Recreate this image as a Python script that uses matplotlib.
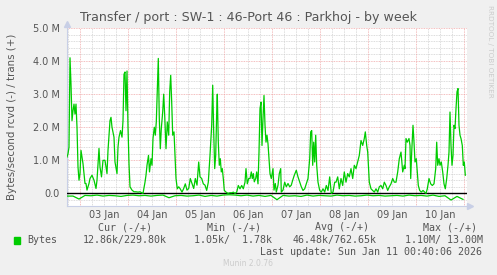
import numpy as np
import matplotlib
matplotlib.use("Agg")
import matplotlib.pyplot as plt

# ---------------- data ----------------
# hours relative to 03 Jan 00:00, trans (+) in MBytes/s
hours = [-6.5, -6, -5.5, -5, -4.5, -4, -3.5, -3, -2.5, -2, -1.5, -1, -0.5, 0, 0.5, 1, 1.5, 2, 2.5, 3,
         3.5, 4, 4.5, 5, 6, 7, 8, 8.5, 9.5, 10, 10.75, 11.5, 12.5, 13.5, 14, 15, 15.5, 16, 17, 17.5,
         18.5, 19, 19.5, 20.25, 21, 21.5, 22, 22.5, 23, 23.5, 24, 24.5, 25, 25.5, 26, 27, 28, 29, 30, 31.5,
         32.5, 33, 33.5, 34.25, 34.75, 35.5, 36, 36.5, 37.15, 37.65, 38.15, 38.65, 39.15, 39.65, 40.15, 40.65,
         41.35, 41.85, 42.35, 43, 43.65, 44.35, 44.85, 45.35, 45.85, 46.35, 47, 47.5, 48, 48.65, 49.35, 50,
         51, 51.85, 52.65, 53.5, 54.35, 55.15, 56, 56.85, 57.65, 58.5, 59.35, 60, 60.85, 61.65, 62.5, 63.35,
         64.15, 65, 65.85, 66.35, 66.85, 67.35, 67.85, 68.35, 68.65, 69.15, 69.65, 70.15, 70.65, 71.15, 71.65,
         72.15, 73, 74, 75, 76, 76.65, 77.5, 78.35, 79.15, 80, 80.85, 81.65, 82.5, 83, 83.65, 84.35, 85,
         85.65, 86.15, 86.65, 87.15, 87.85, 88.35, 89, 89.5, 90, 90.5, 91, 91.5, 92, 92.5, 93, 93.5, 94,
         94.5, 95, 95.65, 96.5, 97, 97.65, 98.15, 99, 99.65, 100.35, 100.65, 101.5, 102.35, 103.15, 104,
         104.85, 105.65, 106.35, 107.15, 108.15, 109, 109.85, 110.65, 111.5, 112.35, 113.15, 114, 114.85,
         115.35, 115.85, 116.35, 116.85, 117.35, 117.85, 118.35, 119, 119.85, 120.65, 121.5, 122.35, 123.15,
         124, 124.85, 125.65, 126.5, 127.35, 128, 128.85, 129.65, 130.5, 131.35, 132.15, 133, 133.85,
         134.65, 135.5, 136.35, 137.15, 138, 138.85, 139.65, 140.5, 141.35, 142.15, 142.65, 143.35, 143.85,
         144.65, 145.5, 146.35, 147.15, 148, 148.85, 149.65, 150.5, 151.35, 152.15, 153, 153.85, 154.65,
         155.5, 156.35, 157.15, 158, 158.85, 159.65, 160.5, 161.35, 162.15, 162.5, 163, 163.65, 164.5, 165,
         165.35, 165.85, 166.5, 167, 167.5, 168.15, 168.65, 169.15, 169.85, 170.65, 171.5, 172.35, 173,
         173.65, 174.5, 175.35, 176.15, 177, 177.85, 178.35, 178.85, 179.5, 180, 180.65, 181.35, 182,
         182.65, 183.35, 184, 184.5, 185, 185.5, 186, 186.5, 187, 187.5, 188, 188.5, 189, 189.5, 190,
         190.5, 191.15, 191.65, 192.15, 192.65]
trans = [1.1, 1.2, 1.4, 4.1, 3.3, 2.2, 2.5, 2.7, 2.4, 2.7, 2.0, 0.8, 0.4, 0.6, 1.3, 1.1, 0.9, 0.6, 0.3, 0.3,
         0.1, 0.2, 0.3, 0.45, 0.55, 0.4, 0.15, 0.4, 1.36, 0.8, 0.5, 1.0, 1.0, 0.6, 1.3, 2.2, 2.3, 2.0, 1.7, 0.95,
         0.6, 1.4, 1.7, 1.9, 1.7, 2.2, 3.6, 3.67, 2.5, 3.7, 2.0, 0.9, 0.2, 0.15, 0.1, 0.05, 0.05, 0.04, 0.05, 0.0,
         0.34, 0.55, 0.85, 1.15, 0.65, 1.05, 0.85, 1.66, 2.0, 1.76, 2.16, 3.07, 4.08, 2.26, 1.35, 1.96,
         2.46, 3.0, 2.36, 1.35, 2.16, 1.76, 3.07, 3.57, 2.76, 1.76, 1.86, 1.15, 0.45, 0.14, 0.2, 0.15,
         0.04, 0.15, 0.29, 0.1, 0.15, 0.45, 0.3, 0.15, 0.45, 0.25, 0.95, 0.5, 0.45, 0.29, 0.25, 0.09,
         0.34, 1.15, 2.06, 3.27, 1.86, 0.75, 1.15, 2.46, 3.0, 1.55, 0.85, 1.05, 0.65, 0.75, 0.45,
         0.09, 0.04, 0.0, 0.02, 0.02, 0.04, 0.0, 0.04, 0.24, 0.14, 0.24, 0.14, 0.34, 0.75, 0.29, 0.45, 0.45,
         0.65, 0.45, 0.6, 0.35, 0.45, 0.65, 0.29, 1.25, 2.56, 2.76, 1.45, 2.26, 2.96, 2.06, 1.55, 1.76, 1.5,
         1.05, 0.6, 0.45, 0.75, 0.1, 0.3, 0.04, 0.25, 0.6, 0.75, 0.04, 0.1, 0.34, 0.2, 0.3,
         0.2, 0.25, 0.4, 0.55, 0.7, 0.5, 0.34, 0.2, 0.09, 0.14, 0.29, 0.45, 1.05,
         1.86, 1.9, 0.85, 1.55, 0.95, 1.76, 0.85, 0.34, 0.09, 0.04, 0.14, 0.04, 0.24,
         0.09, 0.5, 0.0, 0.04, 0.34, 0.34, 0.5, 0.14, 0.45, 0.24, 0.65, 0.34, 0.6,
         0.5, 0.75, 0.45, 0.85, 0.75, 0.95, 1.15, 1.6, 1.45, 1.66, 1.86, 1.45, 1.25,
         0.34, 0.14, 0.09, 0.04, 0.14, 0.04, 0.2, 0.24, 0.14, 0.34, 0.24, 0.09, 0.2,
         0.29, 0.45, 0.34, 0.34, 0.65, 1.05, 1.25, 0.65, 0.85, 0.75, 1.66, 1.55, 1.66, 1.45,
         0.45, 1.25, 2.06, 1.55, 0.95, 1.05, 0.65, 0.24, 0.09, 0.04, 0.09, 0.04, 0.0,
         0.14, 0.45, 0.29, 0.24, 0.29, 0.75, 1.55, 0.85, 1.05, 0.85, 0.95, 0.65, 0.29,
         0.14, 0.45, 0.85, 1.25, 2.46, 1.45, 0.85, 1.15, 2.06, 1.96, 2.56, 3.07, 3.17, 2.06, 1.76,
         1.66, 1.45, 0.85, 0.95, 0.55]

# rcvd (-) in MBytes/s, one sample every 3 hours starting at -6.5 h
rcvd_start = -6.5
rcvd_step = 3
rcvd = [0.08, 0.08, 0.17, 0.06, 0.07, 0.05, 0.08, 0.06, 0.07, 0.09, 0.06, 0.05, 0.07, 0.06, 0.08,
        0.06, 0.05, 0.13, 0.07, 0.06, 0.08, 0.07, 0.05, 0.09, 0.06, 0.08, 0.05, 0.04, 0.05, 0.07,
        0.05, 0.08, 0.06, 0.09, 0.06, 0.19, 0.06, 0.08, 0.07, 0.09, 0.05, 0.08, 0.06, 0.07, 0.08,
        0.05, 0.07, 0.06, 0.08, 0.07, 0.05, 0.07, 0.06, 0.08, 0.07, 0.06, 0.08, 0.05, 0.07, 0.06,
        0.08, 0.05, 0.09, 0.07, 0.20, 0.09, 0.18]

day_labels = ["03 Jan", "04 Jan", "05 Jan", "06 Jan", "07 Jan", "08 Jan", "09 Jan", "10 Jan"]
ytick_vals = [0, 1, 2, 3, 4, 5]
ytick_labels = ["0.0", "1.0 M", "2.0 M", "3.0 M", "4.0 M", "5.0 M"]

title = "Transfer / port : SW-1 : 46-Port 46 : Parkhoj - by week"
ylabel = "Bytes/second rcvd (-) / trans (+)"
legend_name = "Bytes"
col_heads = ["Cur (-/+)", "Min (-/+)", "Avg (-/+)", "Max (-/+)"]
col_vals = ["12.86k/229.80k", "1.05k/  1.78k", "46.48k/762.65k", "1.10M/ 13.00M"]
last_update = "Last update: Sun Jan 11 00:40:06 2026"
footer = "Munin 2.0.76"
side_text = "RRDTOOL / TOBI OETIKER"

# ---------------- figure ----------------
W, H = 497, 275
fig = plt.figure(figsize=(W / 100, H / 100), dpi=100, facecolor="#F0F0F0")
ax = fig.add_axes([67 / W, 1 - 206 / H, 400 / W, (206 - 28) / H])
ax.set_facecolor("white")

x0, x1 = -6.5, 193.5
y0, y1 = -0.38, 5.0
ax.set_xlim(x0, x1)
ax.set_ylim(y0, y1)

dot = (0, (1, 1))
# minor grid
for v in np.arange(0.2, 5.0, 0.2):
    if abs(v - round(v)) > 1e-6:
        ax.axhline(v, color="#d0d0d0", lw=0.6, ls=dot, zorder=1)
ax.axhline(-0.2, color="#d0d0d0", lw=0.6, ls=dot, zorder=1)
for h in np.arange(-6, 193, 6):
    if h % 24 != 0:
        ax.axvline(h, color="#d0d0d0", lw=0.6, ls=dot, zorder=1)
# major grid
for v in range(1, 6):
    ax.axhline(v, color="#f0a8a8", lw=0.6, ls=dot, zorder=1)
for h in range(0, 193, 24):
    ax.axvline(h, color="#f0a8a8", lw=0.6, ls=dot, zorder=1)

ax.axhline(0, color="black", lw=1.0, zorder=3)

green = "#00CC00"
ax.plot(hours, trans, color=green, lw=0.9, zorder=4)
rh = rcvd_start + rcvd_step * np.arange(len(rcvd))
ax.plot(rh, -np.array(rcvd), color=green, lw=0.9, zorder=4)

for s in ["top", "right"]:
    ax.spines[s].set_visible(False)
for s in ["left", "bottom"]:
    ax.spines[s].set_color("#c8cfe6")
    ax.spines[s].set_linewidth(0.8)
ax.plot([x1 + 1.5], [y0], marker=">", color="#c8cfe6", ms=4, clip_on=False)
ax.plot([x0], [y1 + 0.12], marker="^", color="#c8cfe6", ms=4, clip_on=False)

txt = "#555555"
ax.set_yticks(ytick_vals)
ax.set_yticklabels(ytick_labels)
ax.set_xticks([12 + 24 * i for i in range(len(day_labels))])
ax.set_xticklabels(day_labels)
ax.tick_params(length=0, labelsize=7, colors=txt, pad=5)
ax.tick_params(axis="x", pad=3)

fig.text(248 / W, 1 - 18 / H, title, ha="center", va="center", fontsize=9.1, color="#555555")
fig.text(12 / W, 1 - 117 / H, ylabel, rotation=90, ha="center", va="center", fontsize=7.4, color=txt)
fig.text(490 / W, 1 - 5 / H, side_text, rotation=270, ha="center", va="top", fontsize=5.2, color="#cccccc")

mono = "DejaVu Sans Mono"
fig.patches.append(plt.Rectangle((13.5 / W, 1 - 243.5 / H), 6.5 / W, 6.5 / H,
                                 transform=fig.transFigure, color=green, figure=fig))
fig.text(27 / W, 1 - 240 / H, legend_name, ha="left", va="center", fontsize=7.2, family=mono, color=txt)
head_x = [98, 207, 315, 423]
val_x = [83, 194, 293, 405]
for hx, hd in zip(head_x, col_heads):
    fig.text(hx / W, 1 - 227 / H, hd, ha="left", va="center", fontsize=7.2, family=mono, color=txt)
for vx, vv in zip(val_x, col_vals):
    fig.text(vx / W, 1 - 240 / H, vv, ha="left", va="center", fontsize=7.2, family=mono, color=txt)
fig.text(482 / W, 1 - 252 / H, last_update, ha="right", va="center", fontsize=7.2, family=mono, color=txt)
fig.text(248 / W, 1 - 264 / H, footer, ha="center", va="center", fontsize=5.5, color="#cccccc")

fig.savefig("out.png", dpi=100, facecolor=fig.get_facecolor())
